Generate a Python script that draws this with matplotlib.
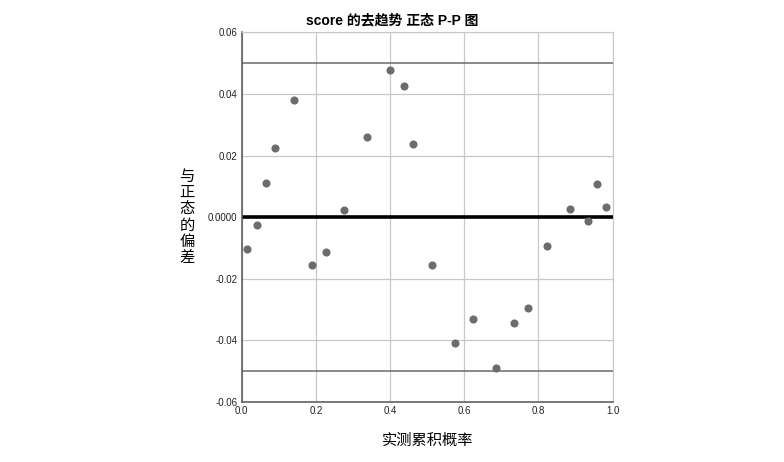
import matplotlib
matplotlib.use("Agg")
import matplotlib.pyplot as plt

plt.rcParams['font.family'] = ['Liberation Sans', 'Noto Sans CJK SC', 'DejaVu Sans']

# observed cumulative probability vs deviation from normal
observed = [0.014, 0.040, 0.066, 0.090, 0.140, 0.190, 0.226, 0.276, 0.338, 0.400,
            0.437, 0.462, 0.512, 0.575, 0.623, 0.685, 0.734, 0.772, 0.822, 0.885,
            0.934, 0.958, 0.982]
deviation = [-0.0103, -0.0025, 0.0111, 0.0225, 0.0380, -0.0155, -0.0113, 0.0023, 0.0260, 0.0476,
             0.0426, 0.0238, -0.0154, -0.0408, -0.0330, -0.0490, -0.0343, -0.0295, -0.0094, 0.0027,
             -0.0012, 0.0108, 0.0033]

yticks = [-0.06, -0.04, -0.02, 0.0, 0.02, 0.04, 0.06]
ytick_labels = ['-0.06', '-0.04', '-0.02', '0.0000', '0.02', '0.04', '0.06']
xticks = [0.0, 0.2, 0.4, 0.6, 0.8, 1.0]
xtick_labels = ['0.0', '0.2', '0.4', '0.6', '0.8', '1.0']
ref_lines = [0.05, -0.05]

fig = plt.figure(figsize=(7.84, 4.62), dpi=100)
ax = fig.add_axes([0.3083, 0.1299, 0.4732, 0.8002])

ax.set_xlim(0, 1)
ax.set_ylim(-0.06, 0.06)
ax.set_xticks(xticks)
ax.set_xticklabels(xtick_labels)
ax.set_yticks(yticks)
ax.set_yticklabels(ytick_labels)
ax.tick_params(labelsize=7, length=0, pad=3, colors='#222222')

ax.grid(True, color='#c8c8c8', linewidth=0.9)
ax.set_axisbelow(True)

for v in ref_lines:
    ax.axhline(v, color='#6a6a6a', linewidth=1.1, zorder=2)
ax.axhline(0, color='black', linewidth=2.6, zorder=2)

ax.scatter(observed, deviation, s=34, color='#6c6c6c', zorder=3, linewidths=0)

for side in ['top', 'right']:
    ax.spines[side].set_color('#c8c8c8')
for side in ['left', 'bottom']:
    ax.spines[side].set_color('#555555')
    ax.spines[side].set_linewidth(1.1)

fig.text(0.5, 1 - 20 / 462, 'score 的去趋势 正态 P-P 图', ha='center', va='center',
         fontsize=10, fontweight='bold')
fig.text(428 / 784, 1 - 440 / 462, '实测累积概率', ha='center', va='center',
         fontsize=11, family=['Noto Sans CJK SC'])
fig.text(187 / 784, 1 - 217 / 462, '\n'.join('与正态的偏差'), ha='center', va='center',
         fontsize=11, linespacing=0.95, family=['Noto Sans CJK SC'])

fig.savefig('out.png', dpi=100)
